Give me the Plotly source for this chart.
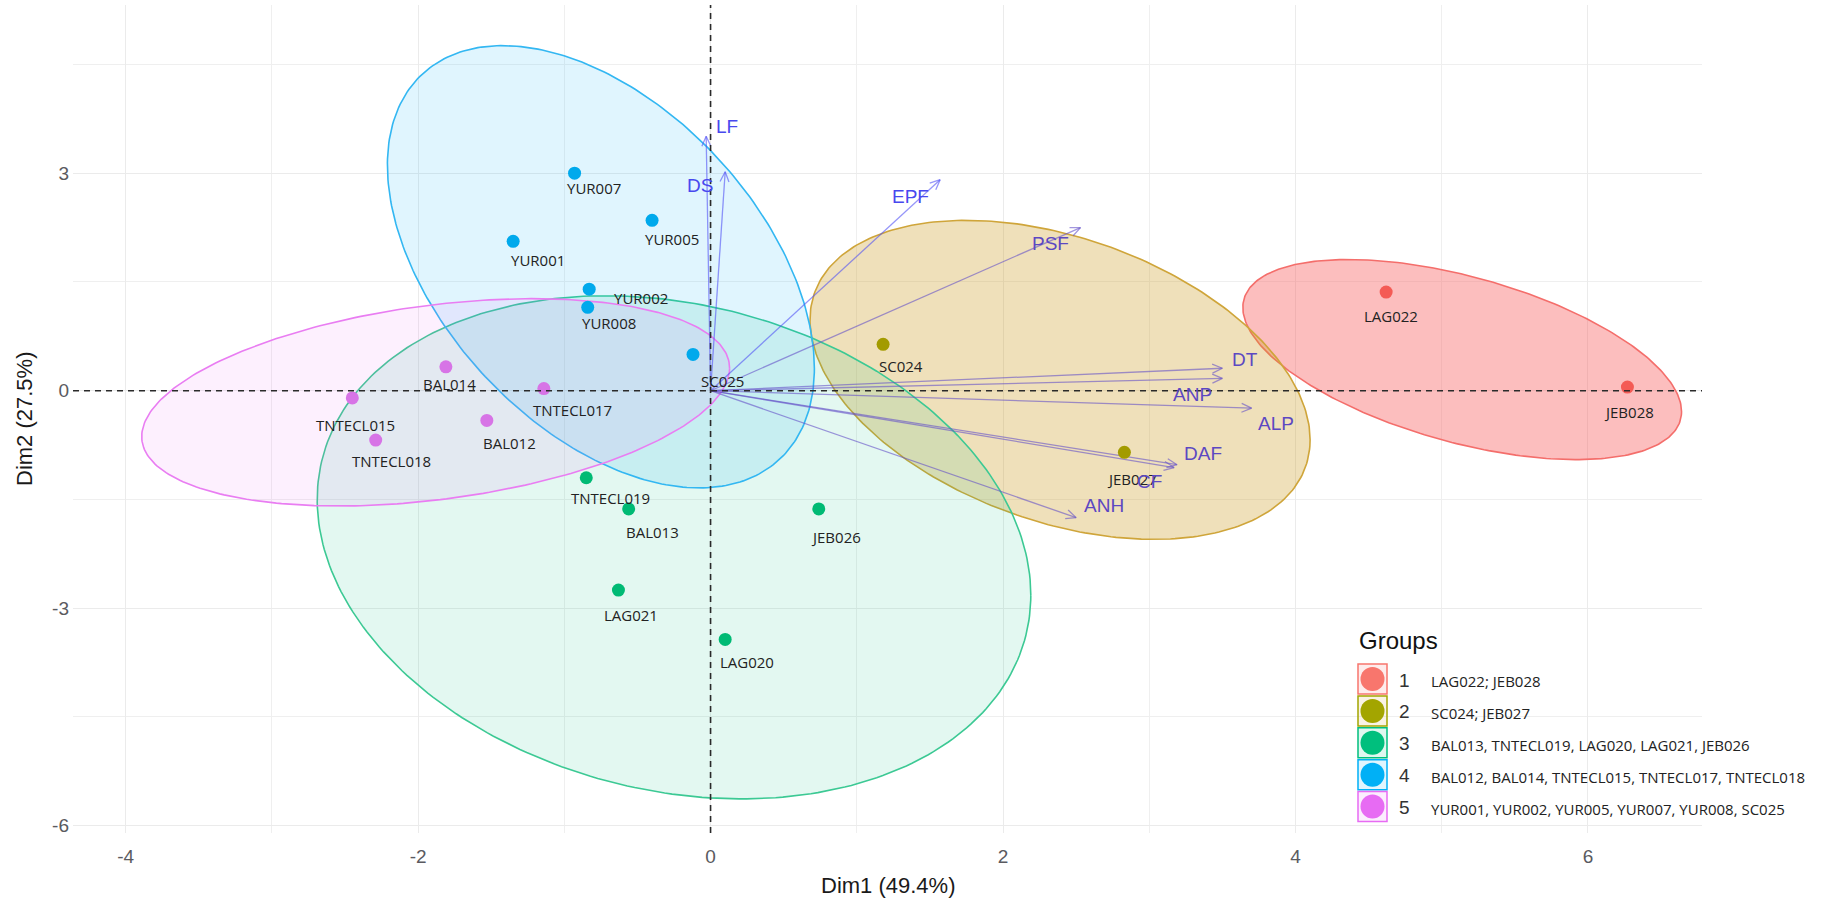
import numpy as np
import plotly.graph_objects as go

# ---------------- data ----------------
ind_names = ["LAG022", "JEB028", "SC024", "JEB027",
             "BAL013", "TNTECL019", "LAG020", "LAG021", "JEB026",
             "YUR001", "YUR002", "YUR005", "YUR007", "YUR008", "SC025",
             "BAL012", "BAL014", "TNTECL015", "TNTECL017", "TNTECL018"]
ind_dim1 = [4.62, 6.27, 1.18, 2.83,
            -0.56, -0.85, 0.10, -0.63, 0.74,
            -1.35, -0.83, -0.40, -0.93, -0.84, -0.12,
            -1.53, -1.81, -2.45, -1.14, -2.29]
ind_dim2 = [1.36, 0.05, 0.64, -0.85,
            -1.63, -1.20, -3.43, -2.75, -1.63,
            2.06, 1.40, 2.35, 3.00, 1.15, 0.50,
            -0.41, 0.33, -0.10, 0.03, -0.68]
ind_group = [1, 1, 2, 2, 3, 3, 3, 3, 3, 4, 4, 4, 4, 4, 4, 5, 5, 5, 5, 5]

var_names = ["LF", "DS", "EPF", "PSF", "DT", "ANP", "ALP", "DAF", "CF", "ANH"]
var_dim1 = [-0.03, 0.10, 1.57, 2.53, 3.50, 3.50, 3.70, 3.19, 3.17, 2.50]
var_dim2 = [3.51, 3.02, 2.91, 2.25, 0.31, 0.17, -0.24, -1.02, -1.06, -1.75]

# ellipse parameters per group: centre, half extents, correlation
ell_group = [1, 2, 3, 4, 5]
ell_cx = [5.14, 2.39, -0.25, -0.75, -1.88]
ell_cy = [0.43, 0.15, -2.16, 1.71, -0.16]
ell_sx = [1.50, 1.71, 2.44, 1.46, 2.01]
ell_sy = [1.38, 2.20, 3.47, 3.05, 1.43]
ell_rho = [-0.52, -0.376, -0.19, -0.46, 0.33]

x_ticks = [-4, -2, 0, 2, 4, 6]
y_ticks = [-6, -3, 0, 3]

legend_numbers = ["1", "2", "3", "4", "5"]
legend_labels = ["LAG022; JEB028",
                 "SC024; JEB027",
                 "BAL013, TNTECL019, LAG020, LAG021, JEB026",
                 "BAL012, BAL014, TNTECL015, TNTECL017, TNTECL018",
                 "YUR001, YUR002, YUR005, YUR007, YUR008, SC025"]

x_label = "Dim1 (49.4%)"
y_label = "Dim2 (27.5%)"

# ---------------- styles ----------------
W, H = 1836, 906
ML, MR, MT, MB = 73, 134, 5, 73
XR = [-4.36, 6.78]
YR = [-6.1, 5.32]
PW = W - ML - MR
PH = H - MT - MB
SX = PW / (XR[1] - XR[0])
SY = PH / (YR[1] - YR[0])


def d2p(x, y):
    return ML + (x - XR[0]) * SX, MT + (YR[1] - y) * SY


def p2d(px, py):
    return XR[0] + (px - ML) / SX, YR[1] - (py - MT) / SY


def pxp(px):
    return (px - ML) / PW


def pyp(py):
    return (H - MB - py) / PH


point_col = {1: "#F45B55", 2: "#A39B00", 3: "#00BA74", 4: "#00A9EC", 5: "#D774E6"}
key_col = {1: "#F8766D", 2: "#A3A500", 3: "#00BF7D", 4: "#00B0F6", 5: "#E76BF3"}
ell_line = {1: "#F46E6B", 2: "#CFA53A", 3: "#3CC994", 4: "#33B7F2", 5: "#E97DF2"}
ell_fill = {1: "rgba(248,100,100,0.42)", 2: "rgba(206,160,40,0.32)",
            3: "rgba(0,191,125,0.11)", 4: "rgba(0,176,246,0.12)",
            5: "rgba(231,107,243,0.10)"}

# label offsets in pixels (dx right, dy down)
ind_lab_off = {"YUR007": (19, 15), "YUR005": (20, 19), "YUR001": (25, 19),
               "YUR002": (52, 9), "YUR008": (21, 16), "SC025": (29, 27),
               "BAL014": (4, 17), "TNTECL017": (29, 21), "TNTECL015": (3, 27),
               "BAL012": (23, 23), "TNTECL018": (16, 21), "TNTECL019": (24, 20),
               "BAL013": (24, 23), "LAG021": (13, 25), "LAG020": (22, 23),
               "JEB026": (17, 28), "SC024": (18, 22), "JEB027": (8, 27),
               "LAG022": (5, 24), "JEB028": (2, 25)}
var_lab_off = {"LF": (21, -10), "DS": (-25, 14), "EPF": (-30, 17), "PSF": (-30, 16),
               "DT": (23, -9), "ANP": (-30, 16), "ALP": (24, 15), "DAF": (26, -11),
               "CF": (-25, 14), "ANH": (28, -12)}
var_bright = {"LF", "DS", "EPF"}

fig = go.Figure()

# ellipses
t = np.linspace(0, 2 * np.pi, 300)
for g, cx, cy, sx_, sy_, r in zip(ell_group, ell_cx, ell_cy, ell_sx, ell_sy, ell_rho):
    ex = cx + sx_ * np.cos(t)
    ey = cy + sy_ * (r * np.cos(t) + np.sqrt(1 - r * r) * np.sin(t))
    fig.add_trace(go.Scatter(x=ex, y=ey, mode="lines", fill="toself",
                             fillcolor=ell_fill[g],
                             line=dict(color=ell_line[g], width=1.6),
                             hoverinfo="skip", showlegend=False))

# variable arrows
for nm, vx, vy in zip(var_names, var_dim1, var_dim2):
    x0p, y0p = d2p(0, 0)
    x1p, y1p = d2p(vx, vy)
    ang = np.arctan2(y1p - y0p, x1p - x0p)
    L, a = 11, np.radians(24)
    h1 = p2d(x1p - L * np.cos(ang - a), y1p - L * np.sin(ang - a))
    h2 = p2d(x1p - L * np.cos(ang + a), y1p - L * np.sin(ang + a))
    col = "rgba(80,80,245,0.6)" if nm in var_bright else "rgba(100,80,200,0.6)"
    fig.add_trace(go.Scatter(x=[0, vx, None, h1[0], vx, h2[0]],
                             y=[0, vy, None, h1[1], vy, h2[1]],
                             mode="lines", line=dict(color=col, width=1.3),
                             hoverinfo="skip", showlegend=False))

# points
fig.add_trace(go.Scatter(x=ind_dim1, y=ind_dim2, mode="markers",
                         marker=dict(size=13, color=[point_col[g] for g in ind_group],
                                     line=dict(width=0)),
                         text=ind_names, hoverinfo="text", showlegend=False))

ann = []
for nm, x, y in zip(ind_names, ind_dim1, ind_dim2):
    dx, dy = ind_lab_off[nm]
    ann.append(dict(x=x, y=y, xref="x", yref="y", text=nm, showarrow=False,
                    xshift=dx, yshift=-dy, xanchor="center", yanchor="middle",
                    font=dict(family="Open Sans", size=15, color="#222222")))
for nm, x, y in zip(var_names, var_dim1, var_dim2):
    dx, dy = var_lab_off[nm]
    col = "#4848EE" if nm in var_bright else "#5C48C2"
    ann.append(dict(x=x, y=y, xref="x", yref="y", text=nm, showarrow=False,
                    xshift=dx, yshift=-dy, xanchor="center", yanchor="middle",
                    font=dict(family="Liberation Sans, Arial", size=19, color=col)))

# axis titles
ann.append(dict(x=0.5, y=pyp(885), xref="paper", yref="paper", text=x_label,
                showarrow=False, xanchor="center", yanchor="middle",
                font=dict(family="Liberation Sans, Arial", size=22, color="#1a1a1a")))
ann.append(dict(x=pxp(24), y=0.5, xref="paper", yref="paper", text=y_label,
                showarrow=False, xanchor="center", yanchor="middle", textangle=-90,
                font=dict(family="Liberation Sans, Arial", size=22, color="#1a1a1a")))

# dashed reference lines
shapes = [
    dict(type="line", xref="x", yref="paper", x0=0, x1=0, y0=0, y1=1,
         line=dict(color="#2a2a2a", width=1.6, dash="6px,5px"), layer="above"),
    dict(type="line", xref="paper", yref="y", x0=0, x1=1, y0=0, y1=0,
         line=dict(color="#2a2a2a", width=1.6, dash="6px,5px"), layer="above"),
]

# custom legend
ann.append(dict(x=pxp(1357), y=pyp(640), xref="paper", yref="paper", text="Groups",
                showarrow=False, xanchor="left", yanchor="middle",
                font=dict(family="Liberation Sans, Arial", size=24, color="#111111")))
for i, (num, lab) in enumerate(zip(legend_numbers, legend_labels)):
    g = i + 1
    cy = 679 + 31.9 * i
    shapes.append(dict(type="rect", xref="paper", yref="paper",
                       x0=pxp(1358), x1=pxp(1387), y0=pyp(cy + 15), y1=pyp(cy - 15),
                       line=dict(color=key_col[g], width=1.5),
                       fillcolor=ell_fill[g].rsplit(",", 1)[0] + ",0.12)", layer="above"))
    shapes.append(dict(type="circle", xref="paper", yref="paper",
                       x0=pxp(1360.5), x1=pxp(1384.5), y0=pyp(cy + 12), y1=pyp(cy - 12),
                       line=dict(width=0), fillcolor=key_col[g], layer="above"))
    ann.append(dict(x=pxp(1404), y=pyp(cy + 1), xref="paper", yref="paper", text=num,
                    showarrow=False, xanchor="center", yanchor="middle",
                    font=dict(family="Liberation Sans, Arial", size=19, color="#333333")))
    ann.append(dict(x=pxp(1429), y=pyp(cy + 2), xref="paper", yref="paper", text=lab,
                    showarrow=False, xanchor="left", yanchor="middle",
                    font=dict(family="Open Sans", size=15, color="#222222")))

fig.update_layout(
    width=W, height=H,
    margin=dict(l=ML, r=MR, t=MT, b=MB),
    paper_bgcolor="white", plot_bgcolor="white",
    showlegend=False,
    annotations=ann, shapes=shapes,
    xaxis=dict(range=XR, tickvals=x_ticks, ticktext=[str(v) for v in x_ticks],
               showgrid=True, gridcolor="#EBEBEB", gridwidth=1.2,
               minor=dict(dtick=1, tick0=0, showgrid=True, gridcolor="#EFEFEF", gridwidth=1),
               zeroline=False, showline=False, ticks="",
               tickfont=dict(family="Liberation Sans, Arial", size=19, color="#5a5a60"),
               ticklabelstandoff=10),
    yaxis=dict(range=YR, tickvals=y_ticks, ticktext=[str(v) for v in y_ticks],
               showgrid=True, gridcolor="#EBEBEB", gridwidth=1.2,
               minor=dict(dtick=1.5, tick0=0, showgrid=True, gridcolor="#EFEFEF", gridwidth=1),
               zeroline=False, showline=False, ticks="",
               tickfont=dict(family="Liberation Sans, Arial", size=19, color="#5a5a60"),
               ticklabelstandoff=3),
)

fig.write_html("out.html", config={"displayModeBar": False},
               post_script="document.body.style.margin='0';document.body.style.padding='0';")
